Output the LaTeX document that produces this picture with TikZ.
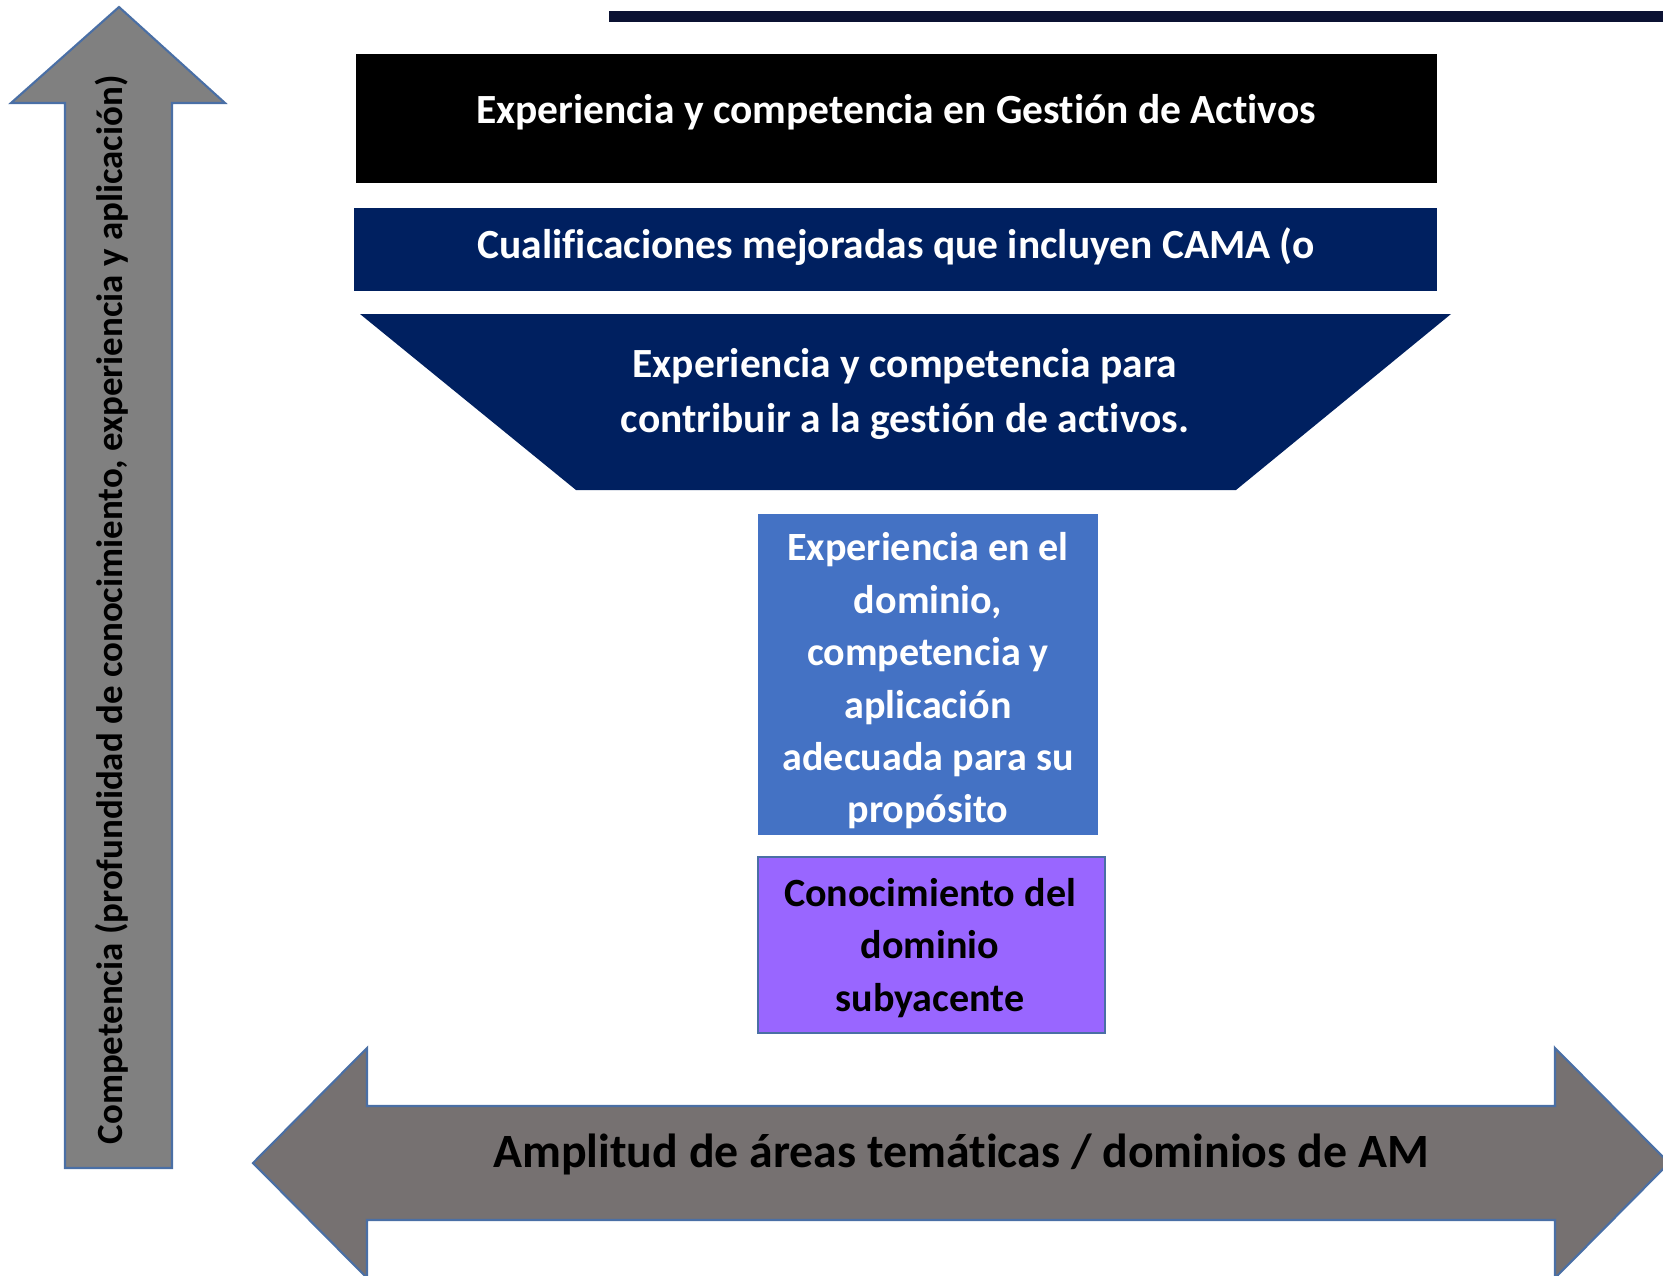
\documentclass[tikz,border=0pt]{standalone}
\usepackage{fontspec}
\setmainfont{Carlito}[Ligatures=NoCommon]
\usetikzlibrary{positioning}

\definecolor{navy}{HTML}{002060}
\definecolor{topline}{HTML}{0B1233}
\definecolor{axisgray}{HTML}{808080}
\definecolor{bandgray}{HTML}{767171}
\definecolor{outline}{HTML}{4A6FA5}
\definecolor{domainblue}{HTML}{4472C4}
\definecolor{basepurple}{HTML}{9966FF}

\begin{document}
\begin{tikzpicture}[
x=0.01cm, y=-0.01cm,
every node/.style={inner sep=0pt, align=center},
headtext/.style={text=white, font=\bfseries\fontsize{11.8}{15.6}\selectfont},
blocktext/.style={font=\bfseries\fontsize{11.4}{14.9}\selectfont},
axistext/.style={font=\bfseries\fontsize{10.5}{12}\selectfont},
bandtext/.style={font=\bfseries\fontsize{13.6}{16}\selectfont},
blockarrow/.style={draw=outline, line width=0.6pt},
]
\useasboundingbox (0,0) rectangle (1663,1275);
\clip (0,0) rectangle (1663,1275);

% line at the top
\fill[topline] (609,11) rectangle (1663,22);

% vertical axis
\filldraw[blockarrow, fill=axisgray] (65,1168) -- (65,103) -- (11,103) -- (119,7)
  -- (225,103) -- (172,103) -- (172,1168) -- cycle;
\node (depth) [axistext, rotate=90, anchor=base] at (122,610)
  {Competencia (profundidad de conocimiento, experiencia y aplicación)};

% horizontal axis
\filldraw[blockarrow, fill=bandgray] (253,1163) -- (367,1048) -- (367,1106) -- (1555,1106)
  -- (1555,1048) -- (1669,1163) -- (1555,1278) -- (1555,1220) -- (367,1220)
  -- (367,1278) -- cycle;
\node (breadth) [bandtext, anchor=base] at (961,1167)
  {Amplitud de áreas temáticas / dominios de AM};

% levels
\fill[black] (356,54) rectangle (1437,183);
\node (activos) [headtext, anchor=base] at (896,123)
  {Experiencia y competencia en Gestión de Activos};

\fill[navy] (354,208) rectangle (1437,291);
\node (cama) [headtext, anchor=base] at (896,258)
  {Cualificaciones mejoradas que incluyen CAMA (o};

\fill[navy] (360,314) -- (1451,314) -- (1236,490) -- (576,490) -- cycle;
\node (contribuir) [headtext] at (905,394)
  {Experiencia y competencia para\\contribuir a la gestión de activos.};

\fill[domainblue] (758,514) rectangle (1098,835);
\node (dominio) [blocktext, text=white] at (928,681)
  {Experiencia en el\\dominio,\\competencia y\\aplicación\\adecuada para su\\propósito};

\filldraw[basepurple, draw=outline, line width=0.5pt] (758,857) rectangle (1105,1033);
\node (subyacente) [blocktext, text=black] at (930,948)
  {Conocimiento del\\dominio\\subyacente};

\end{tikzpicture}
\end{document}
